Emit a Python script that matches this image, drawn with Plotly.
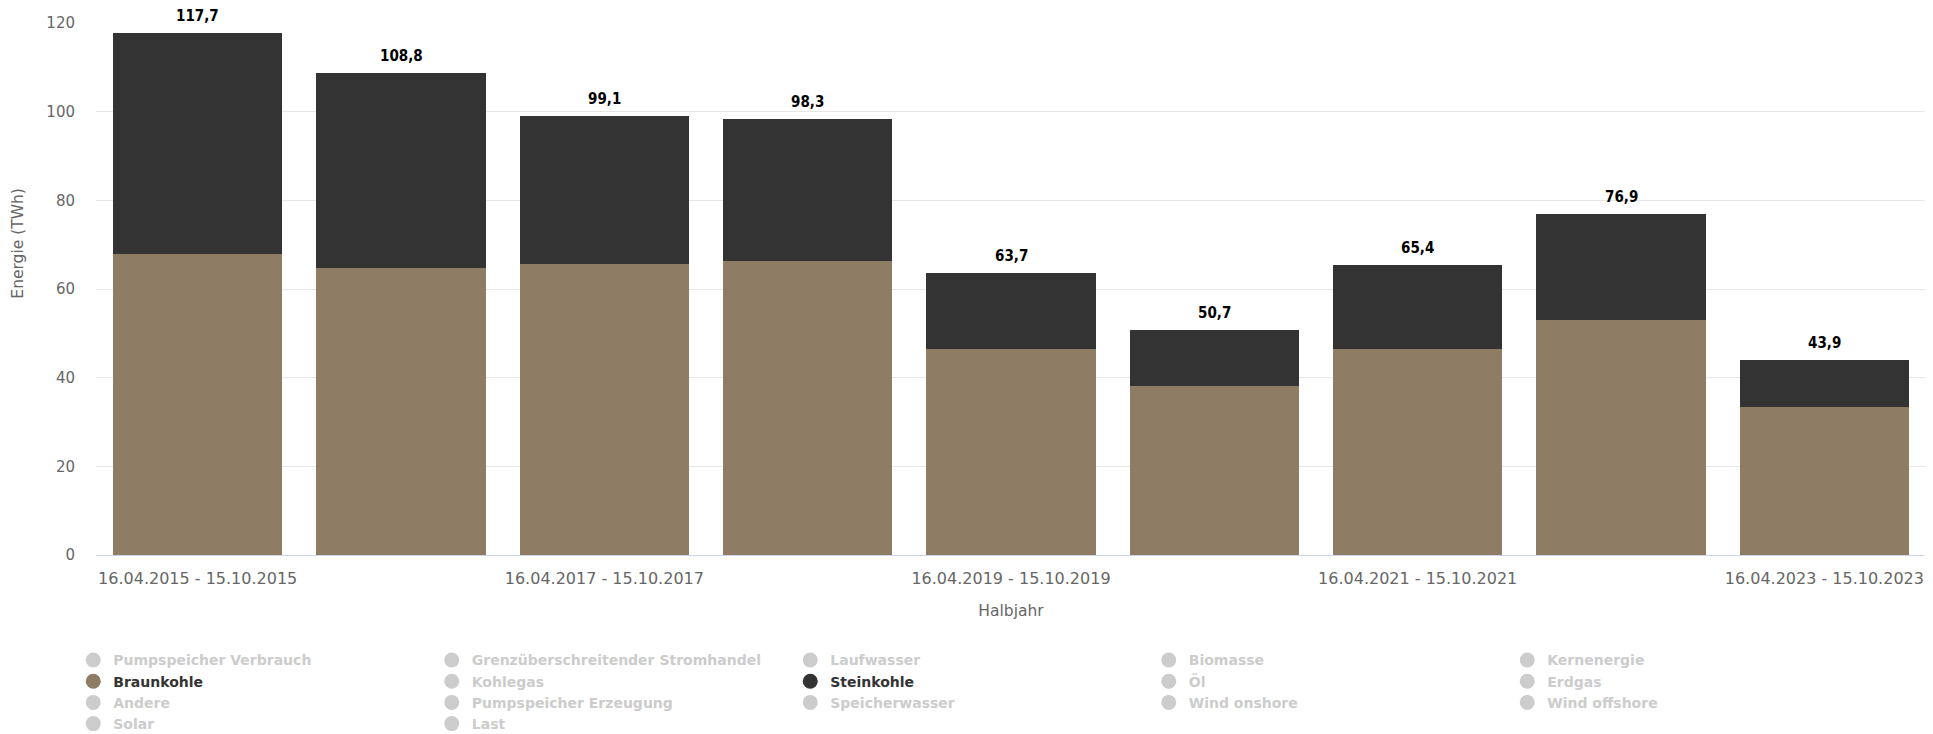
import plotly.graph_objects as go

# ---- data -------------------------------------------------------------
periods = [
    "16.04.2015 - 15.10.2015", "16.04.2016 - 15.10.2016", "16.04.2017 - 15.10.2017",
    "16.04.2018 - 15.10.2018", "16.04.2019 - 15.10.2019", "16.04.2020 - 15.10.2020",
    "16.04.2021 - 15.10.2021", "16.04.2022 - 15.10.2022", "16.04.2023 - 15.10.2023",
]
braunkohle = [68.0, 64.8, 65.7, 66.3, 46.4, 38.1, 46.4, 52.9, 33.3]
steinkohle = [49.7, 44.0, 33.4, 32.0, 17.3, 12.6, 19.0, 24.0, 10.6]
tick_periods = periods[::2]

legend_names = [
    "Pumpspeicher Verbrauch", "Grenzüberschreitender Stromhandel", "Laufwasser", "Biomasse", "Kernenergie",
    "Braunkohle", "Kohlegas", "Steinkohle", "Öl", "Erdgas",
    "Andere", "Pumpspeicher Erzeugung", "Speicherwasser", "Wind onshore", "Wind offshore",
    "Solar", "Last",
]
shown_series = {"Braunkohle": "#8e7c64", "Steinkohle": "#333333"}
hidden_color = "#cccccc"

totals = [round(b + s, 1) for b, s in zip(braunkohle, steinkohle)]
total_labels = [f"{t:.1f}".replace(".", ",") for t in totals]

# ---- figure -----------------------------------------------------------
fig = go.Figure()
fig.add_trace(go.Bar(x=periods, y=braunkohle, name="Braunkohle", legendgroup="Braunkohle",
                     marker=dict(color=shown_series["Braunkohle"], line=dict(width=0)),
                     showlegend=False, hoverinfo="skip"))
fig.add_trace(go.Bar(x=periods, y=steinkohle, name="Steinkohle", legendgroup="Steinkohle",
                     marker=dict(color=shown_series["Steinkohle"], line=dict(width=0)),
                     showlegend=False, hoverinfo="skip"))

# legend entries (circle symbols, hidden series greyed out)
for i, name in enumerate(legend_names):
    if name in shown_series:
        col = shown_series[name]
        label = f"<span style='color:#333333'>{name}</span>"
    else:
        col = hidden_color
        label = f"<span style='color:{hidden_color}'>{name}</span>"
    fig.add_trace(go.Scatter(x=[None], y=[None], mode="markers", name=label,
                             legendgroup=name, legendrank=i + 1,
                             marker=dict(color=col, size=15, symbol="circle"),
                             showlegend=True, hoverinfo="skip"))

# total labels above stacks
for p, t, lab in zip(periods, totals, total_labels):
    fig.add_annotation(x=p, y=t, text=lab, showarrow=False, yshift=17, borderpad=0,
                       font=dict(family="DejaVu Sans Condensed", size=15, color="#000000",
                                 weight="bold"))

# y axis title as annotation (placed like the reference)
fig.add_annotation(text="Energie (TWh)", textangle=-90, showarrow=False,
                   xref="paper", yref="paper", x=-0.0424, y=0.586,
                   xanchor="center", yanchor="middle",
                   font=dict(family="DejaVu Sans", size=15.5, color="#666666"))

fig.update_layout(
    width=1925, height=726,
    barmode="stack", bargap=0.167,
    plot_bgcolor="#ffffff", paper_bgcolor="#ffffff",
    margin=dict(l=88, r=7, t=15, b=179),
    font=dict(family="DejaVu Sans", size=15, color="#666666"),
    showlegend=True,
    legend=dict(orientation="h", xref="container", yref="container",
                x=0.0339, y=0.1234, xanchor="left", yanchor="top",
                entrywidth=313.5, entrywidthmode="pixels",
                font=dict(family="DejaVu Sans", size=14, color="#333333", weight="bold"),
                itemclick=False, itemdoubleclick=False, traceorder="normal"),
    xaxis=dict(type="category", categoryorder="array", categoryarray=periods,
               tickmode="array", tickvals=tick_periods, ticktext=tick_periods,
               ticks="", showgrid=False, showline=True, linecolor="#ccd6eb", linewidth=1,
               ticklabelstandoff=9,
               tickfont=dict(size=16, color="#666666"),
               title=dict(text="Halbjahr", font=dict(size=15.5, color="#666666"), standoff=17)),
    yaxis=dict(range=[0, 120], tickmode="linear", tick0=0, dtick=20,
               showgrid=True, gridcolor="#e6e6e6", gridwidth=1, zeroline=False,
               ticks="", ticklabelstandoff=20,
               tickfont=dict(size=15, color="#666666")),
)

fig.write_html("out.html")
